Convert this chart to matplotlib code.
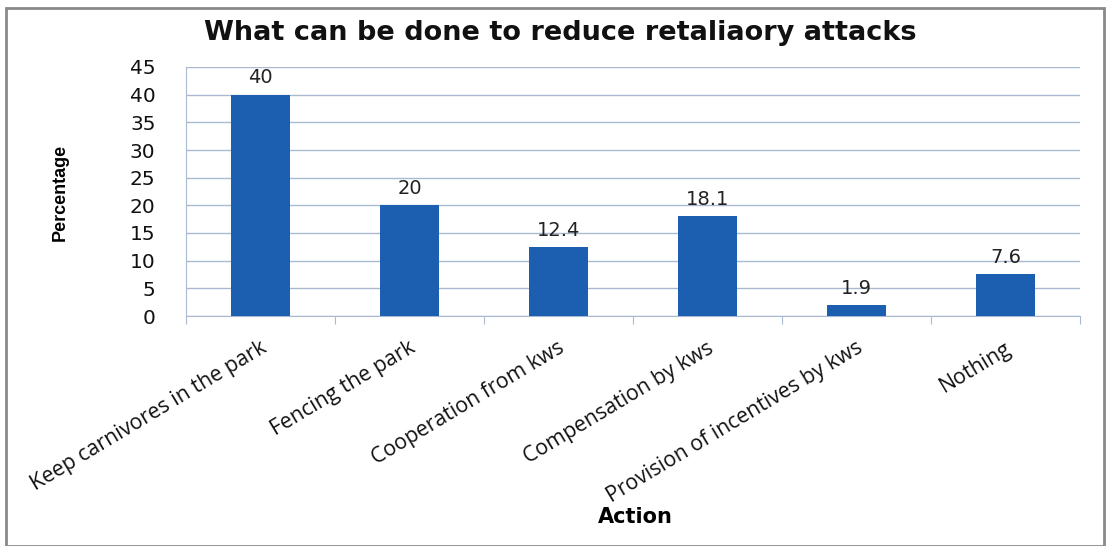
import matplotlib.pyplot as plt
from matplotlib.patches import Rectangle

categories = ['Keep carnivores in the park', 'Fencing the park', 'Cooperation from kws',
              'Compensation by kws', 'Provision of incentives by kws', 'Nothing']
values = [40, 20, 12.4, 18.1, 1.9, 7.6]
value_labels = ['40', '20', '12.4', '18.1', '1.9', '7.6']
yticks = [0, 5, 10, 15, 20, 25, 30, 35, 40, 45]

bar_color = '#1c5fb0'
grid_color = '#a9b9cf'

fig = plt.figure(figsize=(11.1, 5.46), dpi=100)
fig.patches.append(Rectangle((0.005, 0.0), 0.99, 0.985, transform=fig.transFigure,
                             fill=False, edgecolor='#8a8a8a', linewidth=2))
ax = fig.add_axes([186 / 1110, 1 - 316 / 546, (1080 - 186) / 1110, (316 - 67) / 546])

x = list(range(len(categories)))
ax.bar(x, values, width=0.4, color=bar_color, zorder=3)
for xi, v, lab in zip(x, values, value_labels):
    ax.text(xi, v + 1.3, lab, ha='center', va='bottom', fontsize=14, color='#222222')

ax.set_xlim(-0.5, len(categories) - 0.5)
ax.set_ylim(0, 45)
ax.set_yticks(yticks)
ax.set_yticklabels([str(t) for t in yticks], fontsize=14.5, color='#111111')
ax.yaxis.grid(True, color=grid_color, linewidth=1, zorder=0)
ax.set_xticks([i - 0.5 for i in range(len(categories) + 1)])
ax.set_xticklabels([])
ax.tick_params(axis='x', length=6, color=grid_color, direction='out')
ax.tick_params(axis='y', length=0, pad=22)
for s in ['top', 'right']:
    ax.spines[s].set_visible(False)
for s in ['left', 'bottom']:
    ax.spines[s].set_color(grid_color)

for xi, lab in zip(x, categories):
    ax.annotate(lab, xy=(xi, 0), xycoords=('data', 'axes fraction'), xytext=(3, -22),
                textcoords='offset points', rotation=31, rotation_mode='anchor',
                ha='right', va='center', fontsize=15.3, color='#111111',
                family=['Open Sans', 'DejaVu Sans'])

fig.text(60 / 1110, 1 - 192 / 546, 'Percentage', ha='center', va='center', rotation=90,
         fontsize=13, fontweight='bold', family=['Liberation Sans', 'DejaVu Sans'])
fig.text(635 / 1110, 1 - 517 / 546, 'Action', ha='center', va='center',
         fontsize=15, fontweight='bold')
fig.text(560 / 1110, 1 - 33 / 546, 'What can be done to reduce retaliaory attacks',
         ha='center', va='center', fontsize=19.5, fontweight='bold', color='#111111')

fig.savefig('out.png', dpi=100)
